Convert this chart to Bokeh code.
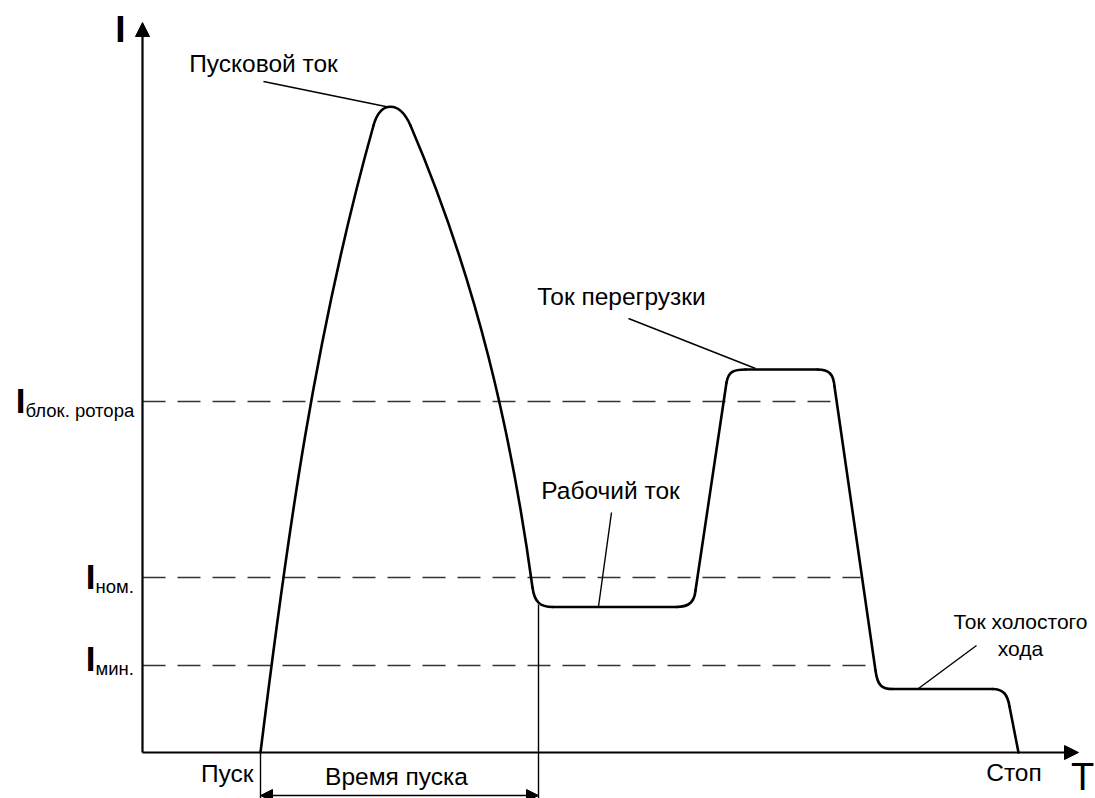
from bokeh.plotting import figure
from bokeh.models import Range1d, Arrow, NormalHead
from bokeh.embed import file_html
from bokeh.resources import INLINE
from bokeh.core.properties import value

FONT = value("Liberation Sans")

# ---- data (T = time units from origin, I = current units from origin) ----
level_names = ["блок. ротора", "ном.", "мин."]
level_I = [351, 175, 87]
level_end_T = [693, 718, 731]

start_T = 118       # Пуск
launch_end_T = 396  # end of starting time
stop_T = 876        # Стоп

# curved parts of the current curve (cubic pieces: start, control 1, control 2, end)
curve_T0 = [118, 231, 268, 390, 534, 584, 675, 733, 850]
curve_I0 = [0, 627, 627, 165, 145.5, 370, 383, 82, 63.5]
curve_cT0 = [144, 238, 334, 392, 548, 586, 687, 735, 861]
curve_cI0 = [210, 652, 473, 150, 145.5, 381, 383, 66, 63.5]
curve_cT1 = [172, 257, 369, 398, 552, 591, 691, 740, 865]
curve_cI1 = [417, 652, 319, 145.5, 152, 383, 378, 63.5, 58]
curve_T1 = [231, 268, 390, 410, 553, 603, 692, 750, 867]
curve_I1 = [627, 627, 165, 145.5, 162, 383, 366, 63.5, 46]

# straight parts: working current, rise to overload, overload, fall, idle, stop
straight_T0 = [410, 553, 603, 692, 750, 867]
straight_I0 = [145.5, 162, 383, 366, 63.5, 46]
straight_T1 = [534, 584, 675, 733, 850, 876]
straight_I1 = [145.5, 370, 383, 82, 63.5, 0]

# annotation labels and leader lines
label_text = ["Пусковой ток", "Ток перегрузки", "Рабочий ток"]
label_T = [121, 479, 468]
label_I = [689.3, 456.3, 262.3]
idle_text = ["Ток холостого", "хода"]
idle_T = [878, 878]
idle_I = [131.2, 104.2]
lead_T0 = [121, 486, 469, 834]
lead_I0 = [671, 434, 240, 107]
lead_T1 = [248, 613, 456, 776]
lead_I1 = [645, 384, 146, 64]

# ---- figure ----
p = figure(width=1095, height=798, x_range=Range1d(-142, 953), y_range=Range1d(-46, 752),
           output_backend="svg", toolbar_location=None, min_border=0,
           x_axis_type=None, y_axis_type=None)
p.outline_line_color = None
p.background_fill_color = "white"
p.xgrid.visible = False
p.ygrid.visible = False

# dashed level lines
p.segment(x0=[0] * 3, y0=level_I, x1=level_end_T, y1=level_I,
          line_color="#333333", line_width=1.4, line_dash="23 12")

# curve
cw = 2.6
p.bezier(x0=curve_T0, y0=curve_I0, x1=curve_T1, y1=curve_I1,
         cx0=curve_cT0, cy0=curve_cI0, cx1=curve_cT1, cy1=curve_cI1,
         line_color="black", line_width=cw, line_cap="round")
p.segment(x0=straight_T0, y0=straight_I0, x1=straight_T1, y1=straight_I1,
          line_color="black", line_width=cw, line_cap="round")

# leader lines
p.segment(x0=lead_T0, y0=lead_I0, x1=lead_T1, y1=lead_I1, line_color="black", line_width=1.4)

# time markers
p.segment(x0=[start_T, launch_end_T], y0=[0, 148], x1=[start_T, launch_end_T], y1=[-46, -46],
          line_color="black", line_width=1.4)

# axes with arrows
p.add_layout(Arrow(end=NormalHead(size=14, fill_color="black", line_color="black"),
                   x_start=0, y_start=0, x_end=0, y_end=730, line_width=2.2, line_color="black"))
p.add_layout(Arrow(end=NormalHead(size=14, fill_color="black", line_color="black"),
                   x_start=0, y_start=0, x_end=936, y_end=0, line_width=2.2, line_color="black"))
p.add_layout(Arrow(start=NormalHead(size=12, fill_color="black", line_color="black"),
                   end=NormalHead(size=12, fill_color="black", line_color="black"),
                   x_start=start_T, y_start=-43, x_end=launch_end_T, y_end=-43,
                   line_width=1.4, line_color="black"))

# axis titles
p.text(x=[-22], y=[723], text=["I"], text_font=FONT, text_font_size="37px", text_font_style="bold",
       text_align="center", text_baseline="alphabetic", text_color="black")
p.text(x=[940], y=[-24.5], text=["T"], text_font=FONT, text_font_size="38px",
       text_align="center", text_baseline="alphabetic", text_color="black")

# level labels: big I + subscript
p.text(x=[-122, -52, -52], y=[352.5, 176.5, 94.5], text=["I", "I", "I"], text_font=FONT,
       text_font_size="35px", text_font_style="bold",
       text_align="center", text_baseline="alphabetic", text_color="black")
p.text(x=[-117, -47, -47], y=[342.5, 165.8, 84.5], text=level_names, text_font=FONT,
       text_font_size="18.5px", text_align="left", text_baseline="alphabetic", text_color="black")

# annotations
p.text(x=label_T, y=label_I, text=label_text, text_font=FONT, text_font_size="24.5px",
       text_align="center", text_baseline="alphabetic", text_color="black")
p.text(x=idle_T, y=idle_I, text=idle_text, text_font=FONT, text_font_size="21px",
       text_align="center", text_baseline="alphabetic", text_color="black")
p.text(x=[111], y=[-20.7], text=["Пуск"], text_font=FONT, text_font_size="24.5px",
       text_align="right", text_baseline="alphabetic", text_color="black")
p.text(x=[254], y=[-23.7], text=["Время пуска"], text_font=FONT, text_font_size="24.5px",
       text_align="center", text_baseline="alphabetic", text_color="black")
p.text(x=[871.5], y=[-19.7], text=["Стоп"], text_font=FONT, text_font_size="24.5px",
       text_align="center", text_baseline="alphabetic", text_color="black")

open("out.html", "w").write(file_html(p, INLINE))
